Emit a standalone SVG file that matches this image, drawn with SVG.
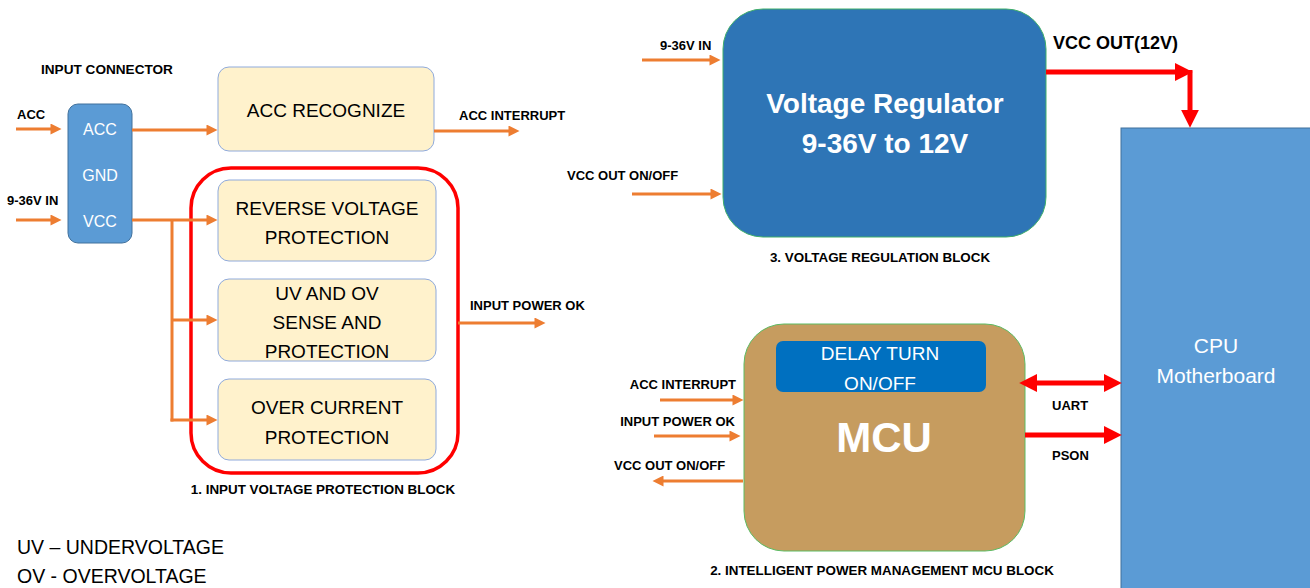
<svg xmlns="http://www.w3.org/2000/svg" width="1310" height="588" viewBox="0 0 1310 588">
<style>
text{font-family:"Liberation Sans",Arial,sans-serif;}
.lbl{font-size:13px;font-weight:bold;fill:#000;}
.cap{font-size:13.4px;font-weight:bold;fill:#000;}
.box{fill:#fff2cc;stroke:#8faadc;stroke-width:1;}
.bt{font-size:19px;fill:#000;text-anchor:middle;}
.wt{fill:#fff;text-anchor:middle;}
.oa{stroke:#ed7d31;stroke-width:3;fill:none;marker-end:url(#oh);}
.ol{stroke:#ed7d31;stroke-width:3;fill:none;}
.ra{stroke:#ff0000;stroke-width:5;fill:none;marker-end:url(#rh);}
</style>
<defs>
<marker id="oh" viewBox="0 0 10 10" refX="5" refY="5" markerWidth="12" markerHeight="11" markerUnits="userSpaceOnUse" orient="auto"><path d="M0,0 L10,5 L0,10 z" fill="#ed7d31"/></marker>
<marker id="rh" viewBox="0 0 10 10" refX="4" refY="5" markerWidth="18" markerHeight="18" markerUnits="userSpaceOnUse" orient="auto-start-reverse"><path d="M0,0 L10,5 L0,10 z" fill="#ff0000"/></marker>
</defs>
<rect width="1310" height="588" fill="#fff"/>

<g id="cpu">
<rect x="1121" y="128" width="195" height="465" fill="#5b9bd5" stroke="#41719c" stroke-width="1"/>
<text class="wt" x="1216" y="353" font-size="21">CPU</text>
<text class="wt" x="1216" y="383" font-size="21">Motherboard</text>
</g>

<g id="input-connector">
<text x="41" y="74" font-size="13.6" font-weight="bold">INPUT CONNECTOR</text>
<rect x="68" y="104" width="64" height="139" rx="10" fill="#5b9bd5" stroke="#41719c" stroke-width="1"/>
<text class="wt" x="100" y="135" font-size="16">ACC</text>
<text class="wt" x="100" y="181" font-size="16">GND</text>
<text class="wt" x="100" y="227" font-size="16">VCC</text>
</g>

<g id="acc-recognize">
<rect class="box" x="218" y="67" width="216" height="84" rx="11"/>
<text class="bt" x="326" y="117">ACC RECOGNIZE</text>
</g>

<g id="protection-block">
<rect x="191" y="168" width="267" height="305" rx="40" fill="none" stroke="#ff0000" stroke-width="3.5"/>
<text class="cap" x="323" y="494" text-anchor="middle">1. INPUT VOLTAGE PROTECTION BLOCK</text>
</g>

<g id="reverse-voltage">
<rect class="box" x="218" y="180" width="218" height="81" rx="11"/>
<text class="bt" x="327" y="215">REVERSE VOLTAGE</text>
<text class="bt" x="327" y="244">PROTECTION</text>
</g>

<g id="uv-ov">
<rect class="box" x="218" y="279" width="218" height="82" rx="11"/>
<text class="bt" x="327" y="300">UV AND OV</text>
<text class="bt" x="327" y="329">SENSE AND</text>
<text class="bt" x="327" y="358">PROTECTION</text>
</g>

<g id="over-current">
<rect class="box" x="218" y="379" width="218" height="81" rx="11"/>
<text class="bt" x="327" y="414">OVER CURRENT</text>
<text class="bt" x="327" y="444">PROTECTION</text>
</g>

<g id="voltage-regulator">
<rect x="723" y="9" width="323" height="228" rx="40" fill="#2e75b6" stroke="#3fae6a" stroke-width="1"/>
<text class="wt" x="885" y="113" font-size="28" font-weight="bold">Voltage Regulator</text>
<text class="wt" x="885" y="153" font-size="28" font-weight="bold">9-36V to 12V</text>
<text class="cap" x="880" y="262" text-anchor="middle">3. VOLTAGE REGULATION BLOCK</text>
</g>

<g id="mcu">
<rect x="744" y="324" width="281" height="227" rx="40" fill="#c69c5f" stroke="#5dbb63" stroke-width="1"/>
<rect x="776" y="341" width="210" height="51" rx="7" fill="#0070c0"/>
<text class="wt" x="880" y="360" font-size="19">DELAY TURN</text>
<text class="wt" x="880" y="390" font-size="19">ON/OFF</text>
<text class="wt" x="884" y="452" font-size="42" font-weight="bold">MCU</text>
<text class="cap" x="882" y="575" text-anchor="middle">2. INTELLIGENT POWER MANAGEMENT MCU BLOCK</text>
</g>

<g id="connectors">
<line class="oa" x1="16" y1="129" x2="56" y2="129"/>
<line class="oa" x1="16" y1="220" x2="56" y2="220"/>
<line class="oa" x1="132" y1="130" x2="212" y2="130"/>
<line class="oa" x1="132" y1="220" x2="212" y2="220"/>
<line class="ol" x1="172" y1="220" x2="172" y2="421.5"/>
<line class="oa" x1="172" y1="320" x2="212" y2="320"/>
<line class="oa" x1="170.5" y1="420" x2="212" y2="420"/>
<line class="oa" x1="434" y1="131" x2="514" y2="131"/>
<line class="oa" x1="458" y1="323" x2="540" y2="323"/>
<line class="oa" x1="642" y1="60" x2="715" y2="60"/>
<line class="oa" x1="632" y1="194" x2="716" y2="194"/>
<line class="oa" x1="660" y1="400" x2="738" y2="400"/>
<line class="oa" x1="654" y1="436" x2="735" y2="436"/>
<line class="oa" x1="743" y1="481" x2="658" y2="481"/>
<line class="ra" x1="1046" y1="72" x2="1182" y2="72"/>
<line class="ra" x1="1190" y1="70" x2="1190" y2="117"/>
<line class="ra" x1="1030" y1="383" x2="1111" y2="383" marker-start="url(#rh)"/>
<line class="ra" x1="1025" y1="435" x2="1111" y2="435"/>
</g>

<g id="labels">
<text class="lbl" x="17" y="119">ACC</text>
<text class="lbl" x="7" y="205">9-36V IN</text>
<text class="lbl" x="459" y="120">ACC INTERRUPT</text>
<text class="lbl" x="470" y="310">INPUT POWER OK</text>
<text class="lbl" x="660" y="50">9-36V IN</text>
<text class="lbl" x="567" y="180">VCC OUT ON/OFF</text>
<text x="1053" y="49" font-size="18" font-weight="bold">VCC OUT(12V)</text>
<text class="lbl" x="736" y="389" text-anchor="end">ACC INTERRUPT</text>
<text class="lbl" x="735" y="426" text-anchor="end">INPUT POWER OK</text>
<text class="lbl" x="614" y="470">VCC OUT ON/OFF</text>
<text class="lbl" x="1052" y="410">UART</text>
<text class="lbl" x="1052" y="460">PSON</text>
</g>

<g id="legend">
<text x="17" y="554" font-size="19.5">UV – UNDERVOLTAGE</text>
<text x="17" y="583" font-size="19.5">OV - OVERVOLTAGE</text>
</g>
</svg>
